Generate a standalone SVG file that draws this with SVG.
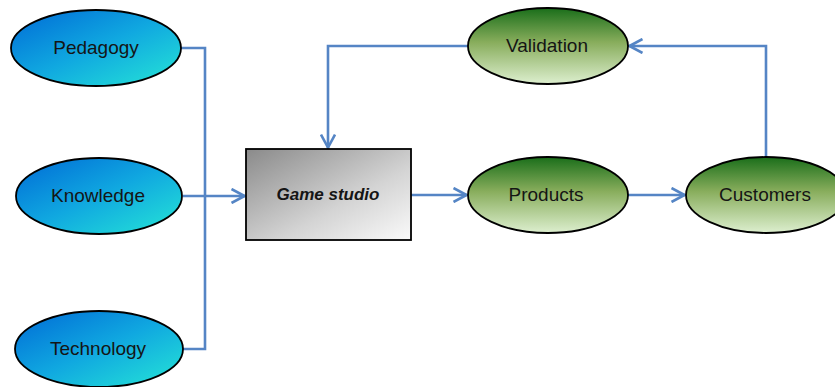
<svg xmlns="http://www.w3.org/2000/svg" width="835" height="387" viewBox="0 0 835 387">
<style>
.lbl{font-family:"Liberation Sans",Arial,sans-serif;font-size:19px;fill:#151515;text-anchor:middle}
.bold{font-weight:bold;font-style:italic;font-size:17px}
.edge{fill:none;stroke:#5585C5;stroke-width:2.6}
.ol{stroke:#000;stroke-width:1.8}
</style>
<defs>
<linearGradient id="gb" x1="0" y1="0" x2="1" y2="1">
<stop offset="0" stop-color="#006ad6"/>
<stop offset="0.5" stop-color="#10a8e0"/>
<stop offset="1" stop-color="#26e6d6"/>
</linearGradient>
<linearGradient id="gg" x1="0" y1="0" x2="0" y2="1">
<stop offset="0" stop-color="#1a6e1a"/>
<stop offset="0.45" stop-color="#88ad5c"/>
<stop offset="1" stop-color="#ddefcf"/>
</linearGradient>
<linearGradient id="gr" x1="0" y1="0" x2="1" y2="1">
<stop offset="0" stop-color="#8a8a8a"/>
<stop offset="0.6" stop-color="#d4d4d4"/>
<stop offset="1" stop-color="#fafafa"/>
</linearGradient>
<marker id="ar" viewBox="0 0 16 16" refX="15" refY="8" markerWidth="16" markerHeight="16" markerUnits="userSpaceOnUse" orient="auto">
<path d="M1.5,1 L14.5,8 L1.5,15" fill="none" stroke="#5585C5" stroke-width="2.6"/>
</marker>
</defs>
<g id="connectors">
<path class="edge" d="M180,48 H205 V349 H183"/>
<path class="edge" d="M183,196 H245" marker-end="url(#ar)"/>
<path class="edge" d="M468,46 H328 V148" marker-end="url(#ar)"/>
<path class="edge" d="M411,195 H467" marker-end="url(#ar)"/>
<path class="edge" d="M628,195 H685" marker-end="url(#ar)"/>
<path class="edge" d="M766,157 V46 H629" marker-end="url(#ar)"/>
</g>
<g id="pedagogy"><ellipse class="ol" cx="96" cy="48" rx="85" ry="38" fill="url(#gb)"/><text class="lbl" x="96" y="54">Pedagogy</text></g>
<g id="knowledge"><ellipse class="ol" cx="99" cy="196" rx="83" ry="38" fill="url(#gb)"/><text class="lbl" x="98" y="202">Knowledge</text></g>
<g id="technology"><ellipse class="ol" cx="99" cy="349" rx="84" ry="38" fill="url(#gb)"/><text class="lbl" x="98" y="355">Technology</text></g>
<g id="gamestudio"><rect class="ol" x="246" y="149" width="165" height="91" fill="url(#gr)"/><text class="lbl bold" x="328" y="200">Game studio</text></g>
<g id="validation"><ellipse class="ol" cx="548" cy="46" rx="80" ry="38" fill="url(#gg)"/><text class="lbl" x="547" y="52">Validation</text></g>
<g id="products"><ellipse class="ol" cx="548" cy="195" rx="80" ry="38" fill="url(#gg)"/><text class="lbl" x="546" y="201">Products</text></g>
<g id="customers"><ellipse class="ol" cx="766" cy="195" rx="80" ry="38" fill="url(#gg)"/><text class="lbl" x="765" y="201">Customers</text></g>
</svg>
